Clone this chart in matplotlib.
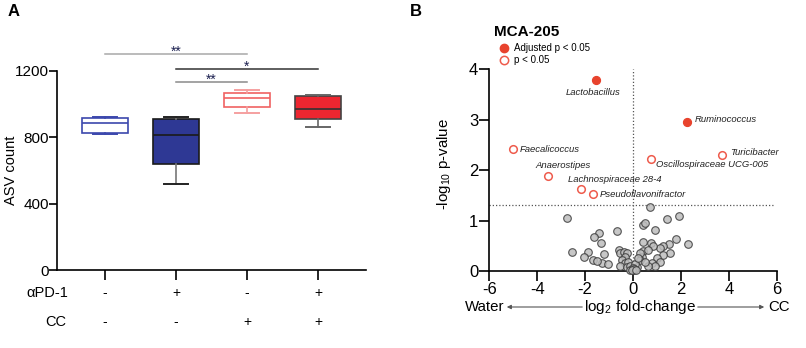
import matplotlib
matplotlib.use("Agg")
import matplotlib.pyplot as plt
from matplotlib.lines import Line2D
from matplotlib.patches import FancyArrowPatch
from matplotlib.transforms import blended_transform_factory
import numpy as np

plt.rcParams['font.family'] = ['Liberation Sans', 'DejaVu Sans']
plt.rcParams['mathtext.fontset'] = 'custom'
plt.rcParams['mathtext.rm'] = 'Liberation Sans'
plt.rcParams['mathtext.it'] = 'Liberation Sans:italic'
plt.rcParams['axes.unicode_minus'] = False

# ---------------- Panel A data: ASV count box summaries ----------------
groups = ["water", "aPD-1", "CC", "aPD-1 + CC"]
apd1_row = ["-", "+", "-", "+"]
cc_row = ["-", "-", "+", "+"]
whisker_low = [823, 521, 948, 861]
q1 = [829, 637, 982, 911]
median = [887, 817, 1040, 970]
q3 = [915, 911, 1068, 1052]
whisker_high = [923, 923, 1086, 1056]
yticks_a = [0, 400, 800, 1200]

# significance brackets: (group i, group j, level, stars)
sig_pairs = [(0, 2, 1302, "**"), (1, 3, 1214, "*"), (1, 2, 1132, "**")]
sig_colors = ["#a8a8a8", "#333333", "#8a8a8a"]

# ---------------- Panel B data: volcano plot ----------------
adj_names = ["Lactobacillus", "Ruminococcus"]
adj_fc = [-1.53, 2.24]
adj_p = [3.78, 2.96]

nom_names = ["Faecalicoccus", "Anaerostipes", "Lachnospiraceae 28-4",
             "Pseudoflavonifractor", "Oscillospiraceae UCG-005", "Turicibacter"]
nom_fc = [-5.03, -3.56, -2.19, -1.68, 0.74, 3.70]
nom_p = [2.41, 1.88, 1.63, 1.53, 2.23, 2.30]

ns_fc = [-2.74, 0.71, 1.41, 1.92, 0.43, 0.50, 0.92, -0.68, -1.41, -1.63,
         -1.34, -2.54, -1.87, -2.03, -1.66, -1.20, -1.28, -1.03, -1.49, 1.80,
         2.31, 1.52, 1.27, 1.13, 1.55, 0.43, 0.74, 0.82, 0.43, 0.64,
         1.27, 0.99, 1.13, 0.78, 0.92, 0.64, 0.38, 0.31, 0.52, -0.60,
         -0.53, -0.39, -0.25, -0.32, -0.47, -0.32, -0.19, -0.53, -0.25, -0.11,
         0.03, -0.11, 0.17, 0.10, 0.31, -0.01, 0.06, 0.22, -0.05, 0.14]
ns_p = [1.06, 1.26, 1.04, 1.10, 0.91, 0.95, 0.81, 0.80, 0.76, 0.67,
        0.55, 0.38, 0.37, 0.28, 0.22, 0.34, 0.16, 0.14, 0.20, 0.63,
        0.54, 0.54, 0.50, 0.45, 0.35, 0.57, 0.55, 0.50, 0.40, 0.42,
        0.32, 0.25, 0.18, 0.15, 0.09, 0.09, 0.28, 0.22, 0.18, 0.42,
        0.35, 0.38, 0.35, 0.28, 0.22, 0.15, 0.18, 0.09, 0.07, 0.09,
        0.02, 0.02, 0.07, 0.13, 0.35, 0.05, 0.03, 0.25, 0.01, 0.01]
p_threshold = 1.30
xticks_b = [-6, -4, -2, 0, 2, 4, 6]
yticks_b = [0, 1, 2, 3, 4]

fig = plt.figure(figsize=(8.06, 3.48), dpi=100)
W, H = 806, 348


def px_axes(left, top, right, bottom):
    return fig.add_axes([left / W, 1 - bottom / H, (right - left) / W, (bottom - top) / H])


# ======================= Panel A =======================
axA = px_axes(57, 71, 366, 270)
pos = np.arange(len(groups))
stats = [dict(med=median[i], q1=q1[i], q3=q3[i], whislo=whisker_low[i],
              whishi=whisker_high[i], fliers=[]) for i in range(len(groups))]

face = ["white", "#2e3894", "white", "#ed2630"]
edge = ["#3c48ad", "#1a1a1a", "#f06262", "#444444"]
whisk = ["#3c48ad", "#777777", "#f5a0a0", "#666666"]
capc = ["#3c48ad", "#222222", "#f5a0a0", "#666666"]
medc = ["#3c48ad", "#1a1a1a", "#f06262", "#333333"]

for i in range(len(groups)):
    axA.bxp([stats[i]], positions=[pos[i]], widths=0.66, capwidths=0.33,
            patch_artist=True, showfliers=False,
            boxprops=dict(facecolor=face[i], edgecolor=edge[i], linewidth=1.2),
            whiskerprops=dict(color=whisk[i], linewidth=1.2),
            capprops=dict(color=capc[i], linewidth=1.4),
            medianprops=dict(color=medc[i], linewidth=1.2))

axA.set_xlim(-0.676, 3.676)
axA.set_ylim(0, 1200)
axA.set_yticks(yticks_a)
axA.set_xticks(pos)
axA.set_xticklabels([])
axA.spines['top'].set_visible(False)
axA.spines['right'].set_visible(False)
for s in ['left', 'bottom']:
    axA.spines[s].set_linewidth(1.2)
axA.tick_params(axis='y', length=6, width=1.2, pad=0, labelsize=11)
axA.tick_params(axis='x', length=7, width=1.2, direction='out')
axA.set_ylabel("ASV count", fontsize=10.5)
axA.yaxis.set_label_coords(-0.126, 0.5)

for (i, j, lvl, stars), c in zip(sig_pairs, sig_colors):
    axA.plot([i, j], [lvl, lvl], color=c, lw=1.1, clip_on=False)
    axA.text((i + j) / 2, lvl - 12, stars, ha='center', va='baseline',
             fontsize=10, color="#1c2050", clip_on=False)

# treatment rows under the axis
row_tr = blended_transform_factory(axA.transData, fig.transFigure)
row_y = [1 - 293 / H, 1 - 322 / H]
row_lbl_x = [68 / W, 66 / W]
for lbl, row, yy, lx in zip(["\u03b1PD-1", "CC"], [apd1_row, cc_row], row_y, row_lbl_x):
    fig.text(lx, yy, lbl, ha='right', va='center', fontsize=10.5)
    for k, s in enumerate(row):
        axA.text(pos[k], yy, s, transform=row_tr, ha='center', va='center',
                 fontsize=10, clip_on=False)

fig.text(8 / W, 1 - 12 / H, "A", fontsize=12, fontweight='bold', va='center', ha='left')

# ======================= Panel B =======================
axB = px_axes(489.3, 69.3, 776.7, 271)
axB.set_xlim(-6, 6)
axB.set_ylim(0, 4)
axB.plot([-6, 5.9], [p_threshold, p_threshold], color="#555555", lw=0.9,
         linestyle=(0, (1, 1.6)), zorder=1)
axB.plot([0, 0], [0, 4], color="#555555", lw=0.9, linestyle=(0, (1, 1.6)), zorder=1)

axB.scatter(ns_fc, ns_p, s=30, facecolor="#bdbdbd", edgecolor="#3a3a3a",
            linewidth=0.8, alpha=0.85, zorder=3, clip_on=False)
axB.scatter(nom_fc, nom_p, s=30, facecolor="white", edgecolor="#ee5b4c",
            linewidth=1.1, zorder=4)
axB.scatter(adj_fc, adj_p, s=34, facecolor="#e8432d", edgecolor="#e8432d",
            linewidth=0.8, zorder=4)

# taxon labels
label_specs = {
    "Lactobacillus": (-1.67, 3.53, 'center'),
    "Ruminococcus": (2.58, 3.00, 'left'),
    "Faecalicoccus": (-4.72, 2.40, 'left'),
    "Anaerostipes": (-2.92, 2.09, 'center'),
    "Lachnospiraceae 28-4": (-2.73, 1.81, 'left'),
    "Pseudoflavonifractor": (-1.41, 1.52, 'left'),
    "Oscillospiraceae UCG-005": (0.96, 2.12, 'left'),
    "Turicibacter": (4.05, 2.35, 'left'),
}
for name, (lx, ly, ha) in label_specs.items():
    axB.text(lx, ly, name, fontsize=6.8, style='italic', ha=ha, va='center',
             color="#222222", clip_on=False)

axB.set_xticks(xticks_b)
axB.set_yticks(yticks_b)
axB.set_xticklabels([str(v) for v in xticks_b])
axB.spines['top'].set_visible(False)
axB.spines['right'].set_visible(False)
for s in ['left', 'bottom']:
    axB.spines[s].set_linewidth(1.2)
axB.tick_params(axis='both', length=7, width=1.2, labelsize=12, pad=1)
axB.set_ylabel("-log$_{10}$ p-value", fontsize=10.8)
axB.yaxis.set_label_coords(-0.126, 0.53)

# x-axis caption with direction arrows
yb = 1 - 307 / H
fig.text(465 / W, yb, "Water", fontsize=10.8, ha='left', va='center')
fig.text(640 / W, yb, "log$_2$ fold-change", fontsize=11, ha='center', va='center')
fig.text(768 / W, yb, "CC", fontsize=10.8, ha='left', va='center')
fig.add_artist(FancyArrowPatch((585 / W, yb), (504 / W, yb), transform=fig.transFigure,
                               arrowstyle='-|>', mutation_scale=6, color="#555555", lw=0.8))
fig.add_artist(FancyArrowPatch((695 / W, yb), (767 / W, yb), transform=fig.transFigure,
                               arrowstyle='-|>', mutation_scale=6, color="#555555", lw=0.8))

# title and legend
fig.text(494 / W, 1 - 32 / H, "MCA-205", fontsize=11, fontweight='bold', ha='left', va='center')
fig.add_artist(Line2D([503.7 / W], [1 - 47.7 / H], marker='o', markersize=6,
                      markerfacecolor="#e8432d", markeredgecolor="#e8432d", linestyle='none'))
fig.add_artist(Line2D([503.7 / W], [1 - 60 / H], marker='o', markersize=6,
                      markerfacecolor="white", markeredgecolor="#ee5b4c",
                      markeredgewidth=1.1, linestyle='none'))
fig.text(514 / W, 1 - 47.7 / H, "Adjusted p < 0.05", fontsize=7, ha='left', va='center')
fig.text(514 / W, 1 - 60 / H, "p < 0.05", fontsize=7, ha='left', va='center')

fig.text(410 / W, 1 - 12 / H, "B", fontsize=12, fontweight='bold', va='center', ha='left')

fig.savefig("out.png", dpi=100)
